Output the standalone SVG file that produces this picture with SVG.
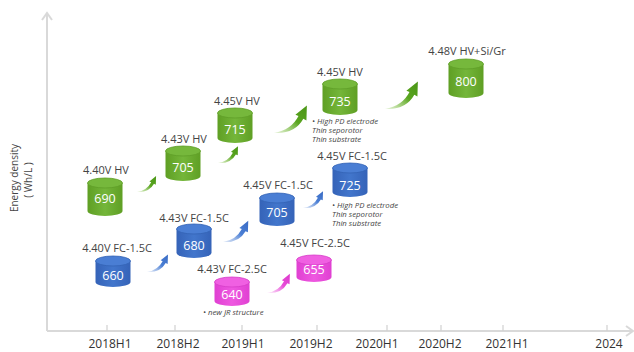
<svg xmlns="http://www.w3.org/2000/svg" width="634" height="352" viewBox="0 0 634 352">
<defs>
<style>
.lbl{font-family:"Open Sans","Noto Sans",sans-serif;font-size:11px;fill:#444;text-anchor:middle}
.num{font-family:"Open Sans","Noto Sans",sans-serif;font-size:12.5px;fill:#fff;text-anchor:middle}
.yr{font-family:"Open Sans","Noto Sans",sans-serif;font-size:12px;fill:#333;text-anchor:middle}
.note{font-family:"Open Sans","Noto Sans",sans-serif;font-size:7.8px;font-style:italic;fill:#444}
.ax{stroke:#d9d9d9;stroke-width:2;fill:none}
.tick{stroke:#d0d0d0;stroke-width:1.2}
.g .body{fill:url(#gBody)}.g .top{fill:#76b83c;stroke:#5f9e28;stroke-width:0.8}
.b .body{fill:url(#bBody)}.b .top{fill:#4a7ed4;stroke:#3463b5;stroke-width:0.8}
.p .body{fill:url(#pBody)}.p .top{fill:#f060e2;stroke:#d63ec8;stroke-width:0.8}
</style>
<linearGradient id="gBody" x1="0" x2="1" y1="0" y2="0"><stop offset="0" stop-color="#5f9f24"/><stop offset="0.5" stop-color="#74b63a"/><stop offset="1" stop-color="#5f9f24"/></linearGradient>
<linearGradient id="bBody" x1="0" x2="1" y1="0" y2="0"><stop offset="0" stop-color="#3563b8"/><stop offset="0.5" stop-color="#4276cc"/><stop offset="1" stop-color="#3563b8"/></linearGradient>
<linearGradient id="pBody" x1="0" x2="1" y1="0" y2="0"><stop offset="0" stop-color="#e040d2"/><stop offset="0.5" stop-color="#ee58e0"/><stop offset="1" stop-color="#e040d2"/></linearGradient>
<linearGradient id="gArr" x1="0" y1="1" x2="1" y2="0"><stop offset="0" stop-color="#8cc850" stop-opacity="0.2"/><stop offset="0.55" stop-color="#5aa520"/><stop offset="1" stop-color="#4a9616"/></linearGradient>
<linearGradient id="bArr" x1="0" y1="1" x2="1" y2="0"><stop offset="0" stop-color="#7aa0e0" stop-opacity="0.2"/><stop offset="0.55" stop-color="#4a7ed4"/><stop offset="1" stop-color="#3a6cc4"/></linearGradient>
<linearGradient id="pArr" x1="0" y1="1" x2="1" y2="0"><stop offset="0" stop-color="#f08ae6" stop-opacity="0.2"/><stop offset="0.55" stop-color="#e84cd8"/><stop offset="1" stop-color="#dc38cc"/></linearGradient>
<path id="sw" d="M0,0 Q60,4 85,-41 L94,-36.5 L95.3,-80 L62,-53 L71,-49 Q50,-8 0,0 Z"/>
</defs>
<rect width="634" height="352" fill="#fff"/>

<g id="axes">
<path class="ax" d="M47,331 V14 M42,20 L47,13 L52,20"/>
<path class="ax" d="M47,331 H632 M626,326 L633,331 L626,336"/>
<g class="tick">
<line x1="107" y1="325" x2="107" y2="331"/><line x1="175" y1="325" x2="175" y2="331"/><line x1="242" y1="325" x2="242" y2="331"/><line x1="317" y1="325" x2="317" y2="331"/><line x1="387" y1="325" x2="387" y2="331"/><line x1="441" y1="325" x2="441" y2="331"/><line x1="503" y1="325" x2="503" y2="331"/><line x1="607" y1="325" x2="607" y2="331"/>
</g>
<text class="yr" x="110" y="348">2018H1</text>
<text class="yr" x="178" y="348">2018H2</text>
<text class="yr" x="243" y="348">2019H1</text>
<text class="yr" x="311" y="348">2019H2</text>
<text class="yr" x="377" y="348">2020H1</text>
<text class="yr" x="440" y="348">2020H2</text>
<text class="yr" x="507" y="348">2021H1</text>
<text class="yr" x="609" y="348">2024</text>
<text class="lbl" style="font-size:10px" transform="translate(18,178) rotate(-90)">Energy density</text>
<text class="lbl" style="font-size:10px" transform="translate(32,180) rotate(-90)">( Wh/L )</text>
</g>

<g id="connectors">
<use href="#sw" fill="url(#gArr)" transform="translate(137,192) scale(0.2)"/>
<use href="#sw" fill="url(#gArr)" transform="translate(218,163) scale(0.21)"/>
<use href="#sw" fill="url(#gArr)" transform="translate(274,133) scale(0.345)"/>
<use href="#sw" fill="url(#gArr)" transform="translate(385,109) scale(0.345)"/>
<use href="#sw" fill="url(#bArr)" transform="translate(147,272) scale(0.22)"/>
<use href="#sw" fill="url(#bArr)" transform="translate(223,242) scale(0.265)"/>
<use href="#sw" fill="url(#bArr)" transform="translate(303,208) scale(0.21)"/>
<use href="#sw" fill="url(#pArr)" transform="translate(267,293) scale(0.24)"/>
</g>

<g id="n690" class="g">
<text class="lbl" x="106" y="174">4.40V HV</text>
<path class="body" d="M87.5,183 V211 A17.5,5 0 0 0 122.5,211 V183 Z"/>
<ellipse class="top" cx="105" cy="183" rx="17.5" ry="5"/>
<text class="num" x="105" y="203">690</text>
</g>
<g id="n705g" class="g">
<text class="lbl" x="184" y="143">4.43V HV</text>
<path class="body" d="M165.5,151 V176 A17.5,5 0 0 0 200.5,176 V151 Z"/>
<ellipse class="top" cx="183" cy="151" rx="17.5" ry="5"/>
<text class="num" x="183" y="172">705</text>
</g>
<g id="n715" class="g">
<text class="lbl" x="237" y="105">4.45V HV</text>
<path class="body" d="M217.5,113 V138 A17.5,5 0 0 0 252.5,138 V113 Z"/>
<ellipse class="top" cx="235" cy="113" rx="17.5" ry="5"/>
<text class="num" x="235" y="134">715</text>
</g>
<g id="n735" class="g">
<text class="lbl" x="340" y="76">4.45V HV</text>
<path class="body" d="M322.5,84 V110 A17.5,5 0 0 0 357.5,110 V84 Z"/>
<ellipse class="top" cx="340" cy="84" rx="17.5" ry="5"/>
<text class="num" x="340" y="106">735</text>
<text class="note" x="312" y="124">• High PD electrode</text>
<text class="note" x="312" y="133">Thin seporotor</text>
<text class="note" x="312" y="142">Thin substrate</text>
</g>
<g id="n800" class="g">
<text class="lbl" x="467" y="55">4.48V HV+Si/Gr</text>
<path class="body" d="M448.5,64 V93 A17.5,5 0 0 0 483.5,93 V64 Z"/>
<ellipse class="top" cx="466" cy="64" rx="17.5" ry="5"/>
<text class="num" x="466" y="86">800</text>
</g>
<g id="n660" class="b">
<text class="lbl" x="117" y="252">4.40V FC-1.5C</text>
<path class="body" d="M95.5,261 V282 A17.5,5 0 0 0 130.5,282 V261 Z"/>
<ellipse class="top" cx="113" cy="261" rx="17.5" ry="5"/>
<text class="num" x="113" y="280">660</text>
</g>
<g id="n680" class="b">
<text class="lbl" x="194" y="222">4.43V FC-1.5C</text>
<path class="body" d="M176.5,229 V253 A17.5,5 0 0 0 211.5,253 V229 Z"/>
<ellipse class="top" cx="194" cy="229" rx="17.5" ry="5"/>
<text class="num" x="194" y="250">680</text>
</g>
<g id="n705b" class="b">
<text class="lbl" x="278" y="189">4.45V FC-1.5C</text>
<path class="body" d="M259.5,198 V221 A17.5,5 0 0 0 294.5,221 V198 Z"/>
<ellipse class="top" cx="277" cy="198" rx="17.5" ry="5"/>
<text class="num" x="277" y="217">705</text>
</g>
<g id="n725" class="b">
<text class="lbl" x="352" y="160">4.45V FC-1.5C</text>
<path class="body" d="M332.5,168 V192 A17.5,5 0 0 0 367.5,192 V168 Z"/>
<ellipse class="top" cx="350" cy="168" rx="17.5" ry="5"/>
<text class="num" x="350" y="190">725</text>
<text class="note" x="332" y="208">• High PD electrode</text>
<text class="note" x="332" y="217">Thin seporotor</text>
<text class="note" x="332" y="226">Thin substrate</text>
</g>
<g id="n640" class="p">
<text class="lbl" x="232" y="273">4.43V FC-2.5C</text>
<path class="body" d="M214.5,282 V301 A17.5,5 0 0 0 249.5,301 V282 Z"/>
<ellipse class="top" cx="232" cy="282" rx="17.5" ry="5"/>
<text class="num" x="232" y="299">640</text>
<text class="note" x="203" y="315">• new JR structure</text>
</g>
<g id="n655" class="p">
<text class="lbl" x="315" y="247">4.45V FC-2.5C</text>
<path class="body" d="M296.5,260 V277 A17.5,5 0 0 0 331.5,277 V260 Z"/>
<ellipse class="top" cx="314" cy="260" rx="17.5" ry="5"/>
<text class="num" x="314" y="274">655</text>
</g>
</svg>
